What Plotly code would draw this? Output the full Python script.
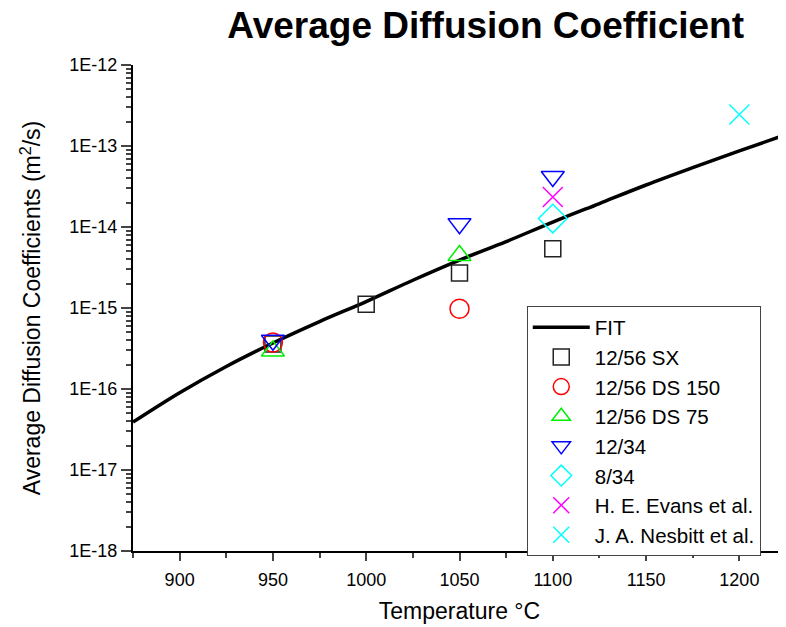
import plotly.graph_objects as go

# ---- data ----
fit_T = [875, 900, 925, 950, 975, 1000, 1025, 1050, 1075, 1100, 1125, 1150, 1175, 1200, 1225]
fit_D = [3.9e-17, 9.0e-17, 1.9e-16, 3.7e-16, 6.8e-16, 1.2e-15, 2.2e-15, 3.9e-15,
         6.6e-15, 1.15e-14, 1.95e-14, 3.3e-14, 5.4e-14, 8.7e-14, 1.38e-13]

sx_T = [950, 1000, 1050, 1100]
sx_D = [3.6e-16, 1.11e-15, 2.7e-15, 5.4e-15]

ds150_T = [950, 1050]
ds150_D = [3.75e-16, 9.8e-16]

ds75_T = [950, 1050]
ds75_D = [2.95e-16, 4.45e-15]

c1234_T = [950, 1050, 1100]
c1234_D = [4.0e-16, 1.1e-14, 4.2e-14]

c834_T = [1100]
c834_D = [1.27e-14]

evans_T = [1100]
evans_D = [2.35e-14]

nesbitt_T = [1200]
nesbitt_D = [2.45e-13]

y_tickvals = [1e-18, 1e-17, 1e-16, 1e-15, 1e-14, 1e-13, 1e-12]
y_ticktext = ["1E-18", "1E-17", "1E-16", "1E-15", "1E-14", "1E-13", "1E-12"]
x_tickvals = [900, 950, 1000, 1050, 1100, 1150, 1200]

FONT = "Arial, Liberation Sans, sans-serif"

fig = go.Figure()
fig.add_trace(go.Scatter(x=fit_T, y=fit_D, mode="lines", name="FIT",
                         line=dict(color="black", width=3.5, shape="spline")))

def pts(x, y, name, symbol, color, size):
    fig.add_trace(go.Scatter(x=x, y=y, mode="markers", name=name,
                             marker=dict(symbol=symbol, size=size, color=color,
                                         line=dict(color=color, width=1.5))))

pts(sx_T, sx_D, "12/56 SX", "square-open", "#222222", 16)
pts(ds150_T, ds150_D, "12/56 DS 150", "circle-open", "#ff0000", 19)
pts(ds75_T, ds75_D, "12/56 DS 75", "triangle-up-open", "#00ee00", 20)
pts(c1234_T, c1234_D, "12/34", "triangle-down-open", "#0000ff", 20)
pts(c834_T, c834_D, "8/34", "diamond-open", "#00ffff", 22)
pts(evans_T, evans_D, "H. E. Evans et al.", "x-thin-open", "#ff00ff", 20)
pts(nesbitt_T, nesbitt_D, "J. A. Nesbitt et al.", "x-thin-open", "#00ffff", 20)

y_minor = [k * 10.0 ** d for d in range(-18, -12) for k in range(2, 10)]

# page body has an 8px margin, so the figure is 8px smaller than the window
fig.update_layout(
    width=778, height=619,
    margin=dict(l=125, r=0, t=57, b=76, autoexpand=False),
    paper_bgcolor="white", plot_bgcolor="white",
    font=dict(family=FONT, color="black", size=18),
    title=dict(text="<b>Average Diffusion Coefficient</b>", x=0.614, xanchor="center",
               y=0.973, yanchor="middle", font=dict(size=37, family=FONT)),
    showlegend=True,
    legend=dict(x=0.603, y=0.246, xanchor="left", yanchor="middle",
                bordercolor="#444444", borderwidth=1, bgcolor="white",
                font=dict(size=20.5, family=FONT), tracegroupgap=0,
                itemwidth=57, entrywidth=252, entrywidthmode="pixels"),
)
fig.update_xaxes(range=[875, 1225], showline=True, linecolor="black", linewidth=2,
                 tickvals=x_tickvals, ticks="outside", ticklen=8, tickwidth=1.5,
                 tickfont=dict(size=18), showgrid=False, zeroline=False, automargin=False,
                 ticklabelstandoff=3,
                 minor=dict(ticks="outside", ticklen=5, tickwidth=1.5, dtick=25, tick0=875),
                 title=dict(text="Temperature °C", font=dict(size=23), standoff=14))
fig.update_yaxes(type="log", range=[-18, -12], showline=True, linecolor="black", linewidth=2,
                 tickvals=y_tickvals, ticktext=y_ticktext, ticks="outside", ticklen=10,
                 tickwidth=1.5, tickfont=dict(size=18), showgrid=False, zeroline=False,
                 automargin=False,
                 minor=dict(ticks="outside", ticklen=5, tickwidth=1.5, tickvals=y_minor),
                 title=dict(text="Average Diffusion Coefficients (m<sup>2</sup>/s)",
                            font=dict(size=23), standoff=22))

fig.write_html("out.html")
